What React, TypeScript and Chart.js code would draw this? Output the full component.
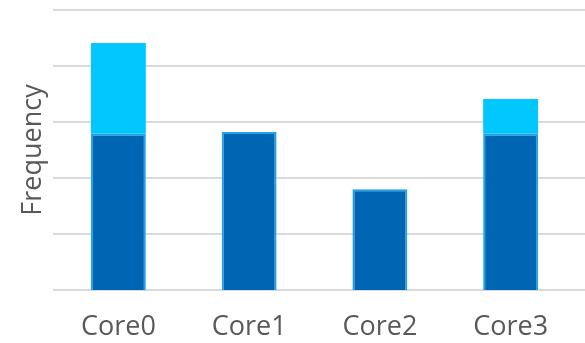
import React, { useEffect, useRef } from "react";
import { Chart, registerables } from "chart.js";

Chart.register(...registerables);

const categories = ["Core0", "Core1", "Core2", "Core3"];
const baseValues = [2.79, 2.82, 1.8, 2.79];
const extraValues = [1.62, 0, 0, 0.62];
const yMin = 0;
const yMax = 5;
const yStep = 1;

const gridColor = "#d9d9d9";
const textColor = "#595959";

// Horizontal gridlines that run from the plot's left edge to the canvas edge
const fullWidthGrid = {
  id: "fullWidthGrid",
  beforeDatasetsDraw(chart: any) {
    const { ctx, chartArea, scales } = chart;
    const y = scales.y;
    ctx.save();
    ctx.strokeStyle = gridColor;
    ctx.lineWidth = 2;
    y.ticks.forEach((t: any) => {
      const py = Math.round(y.getPixelForValue(t.value));
      ctx.beginPath();
      ctx.moveTo(chartArea.left, py);
      ctx.lineTo(chart.width, py);
      ctx.stroke();
    });
    ctx.restore();
  },
};

export default function App() {
  const ref = useRef<HTMLCanvasElement>(null);

  useEffect(() => {
    if (!ref.current) return;
    const chart = new Chart(ref.current, {
      type: "bar",
      data: {
        labels: categories,
        datasets: [
          {
            label: "Base",
            data: baseValues,
            backgroundColor: "#0066b3",
            borderColor: "#1ba4ea",
            borderWidth: 2,
            barPercentage: 0.42,
            categoryPercentage: 1,
          },
          {
            label: "Boost",
            data: extraValues,
            backgroundColor: "#00c8ff",
            borderColor: "#00c8ff",
            borderWidth: 0,
            barPercentage: 0.42,
            categoryPercentage: 1,
          },
        ],
      },
      options: {
        animation: false,
        responsive: false,
        maintainAspectRatio: false,
        layout: { padding: { left: 0, right: 9, top: 10, bottom: 0 } },
        plugins: {
          legend: { display: false },
          tooltip: { enabled: false },
        },
        scales: {
          x: {
            stacked: true,
            grid: { display: false, drawTicks: false },
            border: { display: false },
            ticks: {
              color: textColor,
              padding: 21,
              font: { family: "'Open Sans'", size: 27 },
            },
            afterFit(scale: any) {
              scale.height = 53;
            },
          },
          y: {
            stacked: true,
            min: yMin,
            max: yMax,
            ticks: { stepSize: yStep, display: false },
            grid: { display: false, drawTicks: false },
            border: { display: false },
            title: {
              display: true,
              text: "Frequency",
              color: textColor,
              font: { family: "'Open Sans'", size: 27 },
              padding: { top: 17, bottom: 0 },
            },
            afterFit(scale: any) {
              scale.width = 53;
            },
          },
        },
      },
      plugins: [fullWidthGrid],
    });
    return () => chart.destroy();
  }, []);

  return (
    <div style={{ position: "fixed", left: 0, top: 0, width: 585, height: 343, background: "#fff" }}>
      <canvas ref={ref} width={585} height={343} />
    </div>
  );
}
